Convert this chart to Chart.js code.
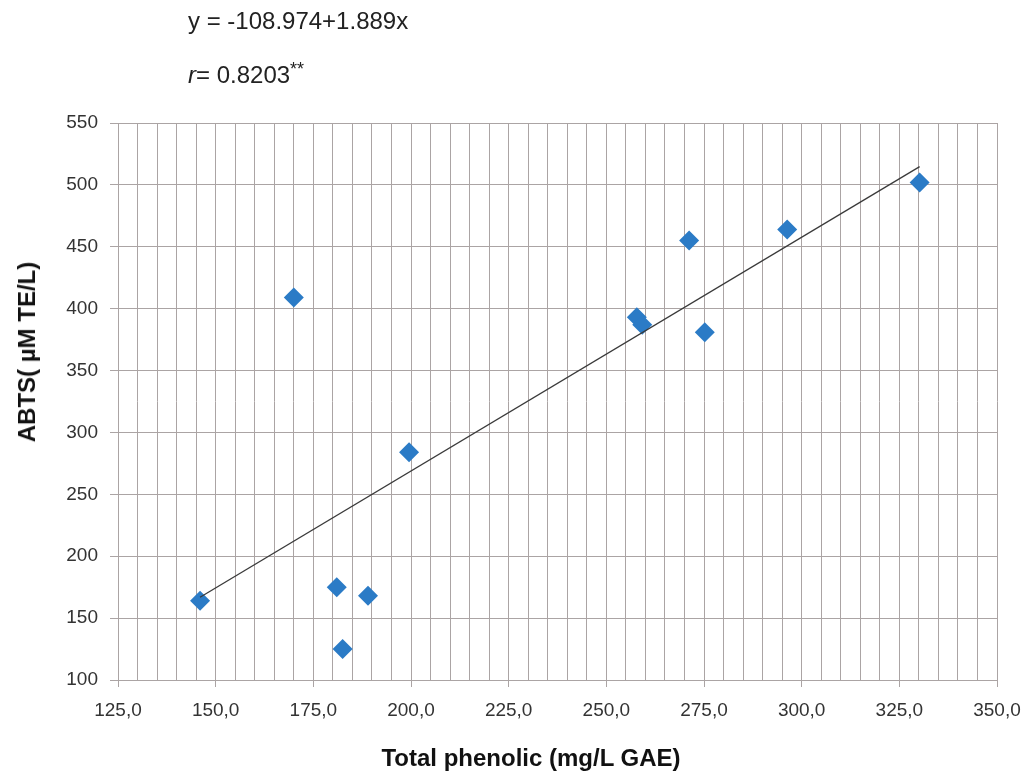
<!DOCTYPE html>
<html>
<head>
<meta charset="utf-8">
<script src="https://cdn.jsdelivr.net/npm/chart.js@4/dist/chart.umd.min.js"></script>
<style>
  body { margin: 0; background: #fff; }
  #wrap { position: relative; width: 1026px; height: 781px; font-family: "Liberation Sans", Arial, sans-serif; }
  .note { position: absolute; left: 188px; font-size: 24px; color: #222; white-space: nowrap; }
  .note sup { font-size: 18px; vertical-align: 8px; }
  .axis-title { position: absolute; font-weight: bold; font-size: 24px; color: #111; white-space: nowrap; transform: translate(-50%, -50%); }
  #yTitle { left: 27px; top: 352px; transform: translate(-50%, -50%) rotate(-90deg); }
  #xTitle { left: 531px; top: 758px; }
</style>
</head>
<body>
<div id="wrap">
  <canvas id="chart" width="1026" height="781"></canvas>
  <div class="note" style="top: 7px;">y = -108.974+1.889x</div>
  <div class="note" style="top: 59px;"><i>r</i>= 0.8203<sup>**</sup></div>
  <div class="axis-title" id="yTitle">ABTS( µM TE/L)</div>
  <div class="axis-title" id="xTitle">Total phenolic (mg/L GAE)</div>
</div>
<script>
// Data
const phenolic = [146, 170, 181, 182.5, 189, 199.5, 257.8, 259.2, 271.2, 275.2, 296.3, 330.2];
const abts = [164, 409, 175, 125, 168, 284, 393, 387, 455, 381, 464, 502];

// Regression line from the printed equation
const intercept = -108.974;
const slope = 1.889;

const xTicks = [125, 150, 175, 200, 225, 250, 275, 300, 325, 350];
const xTickLabels = ['125,0', '150,0', '175,0', '200,0', '225,0', '250,0', '275,0', '300,0', '325,0', '350,0'];
const yTicks = [100, 150, 200, 250, 300, 350, 400, 450, 500, 550];

const gridColor = '#aba4a4';
const tickFont = { family: '"Liberation Sans", Arial, sans-serif', size: 19 };

const points = phenolic.map((x, i) => ({ x: x, y: abts[i] }));
const xMin = Math.min(...phenolic);
const xMax = Math.max(...phenolic);
const fitLine = [xMin, xMax].map(x => ({ x: x, y: intercept + slope * x }));

const ctx = document.getElementById('chart');
new Chart(ctx, {
  type: 'scatter',
  data: {
    datasets: [
      {
        type: 'line',
        label: 'fit',
        data: fitLine,
        borderColor: '#3a3a3a',
        borderWidth: 1.3,
        pointRadius: 0,
        fill: false,
        order: 0
      },
      {
        label: 'samples',
        data: points,
        pointStyle: 'rectRot',
        pointRadius: 10,
        pointHoverRadius: 10,
        backgroundColor: '#2b7bc6',
        borderColor: '#2b7bc6',
        borderWidth: 0,
        order: 1
      }
    ]
  },
  options: {
    responsive: false,
    animation: false,
    layout: { padding: { top: 123, right: 29, left: 0, bottom: 0 } },
    plugins: {
      legend: { display: false },
      tooltip: { enabled: false }
    },
    scales: {
      x: {
        type: 'linear',
        min: 125,
        max: 350,
        afterFit: s => {
          s.height = 101;
          s.paddingLeft = 0;
          s.paddingRight = 0;
        },
        afterBuildTicks: s => {
          const t = [];
          for (let v = 125; v <= 350; v += 5) t.push({ value: v });
          s.ticks = t;
        },
        ticks: {
          autoSkip: false,
          maxRotation: 0,
          padding: 12,
          color: '#333',
          font: tickFont,
          callback: v => {
            const i = xTicks.indexOf(v);
            return i >= 0 ? xTickLabels[i] : '';
          }
        },
        grid: {
          color: gridColor,
          lineWidth: 1,
          tickLength: 7,
          tickColor: c => (c.tick && xTicks.includes(c.tick.value)) ? gridColor : 'rgba(0,0,0,0)'
        },
        border: { color: gridColor }
      },
      y: {
        min: 100,
        max: 550,
        afterFit: s => {
          s.width = 118;
          s.paddingTop = 0;
          s.paddingBottom = 0;
        },
        afterBuildTicks: s => { s.ticks = yTicks.map(v => ({ value: v })); },
        ticks: {
          padding: 12,
          color: '#333',
          font: tickFont
        },
        grid: {
          color: gridColor,
          lineWidth: 1,
          tickLength: 8
        },
        border: { color: gridColor }
      }
    }
  }
});
</script>
</body>
</html>
